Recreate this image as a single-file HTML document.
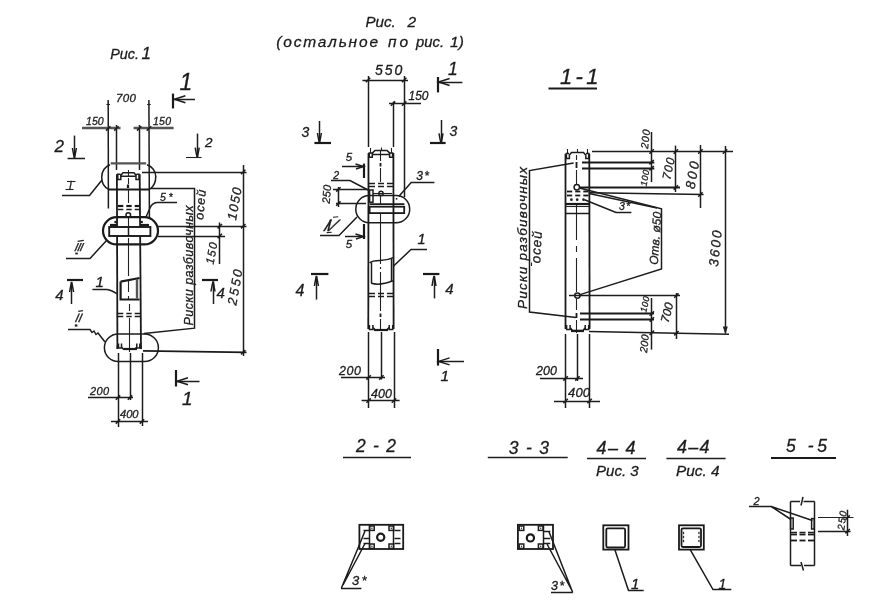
<!DOCTYPE html>
<html lang="ru"><head><meta charset="utf-8"><title>Чертёж</title>
<style>
html,body{margin:0;padding:0;background:#fff;}
svg{display:block;filter:grayscale(1);}
text{font-family:"Liberation Sans","DejaVu Sans",sans-serif;font-style:italic;fill:#1c1c1c;stroke:#1c1c1c;stroke-width:0.3;}
.l{stroke:#1c1c1c;stroke-width:1.5;fill:none;}
.n{stroke:#222;stroke-width:1.1;fill:none;}
.c{stroke:#1a1a1a;stroke-width:1.8;fill:none;}
.t{stroke:#1a1a1a;stroke-width:2.2;fill:none;}
.g{stroke:#555;stroke-width:2.4;fill:none;}
.f{fill:#222;stroke:none;}
</style></head><body>
<svg width="890" height="612" viewBox="0 0 890 612">
<rect x="0" y="0" width="890" height="612" fill="#ffffff"/>
<g id="fig1">
<text x="110.2" y="58.6" font-size="14.39" textLength="28.8" lengthAdjust="spacing" stroke-width="0.55">Рис.</text>
<text x="141.6" y="58.6" font-size="17" stroke-width="0.55">1</text>
<line class="l" x1="108.2" y1="100" x2="108.4" y2="208.5"/>
<line class="l" x1="148.9" y1="100" x2="149.4" y2="217.5"/>
<line class="n" x1="106.4" y1="104.5" x2="110" y2="104.5"/>
<line class="n" x1="147.1" y1="104.5" x2="150.7" y2="104.5"/>
<line class="l" x1="116.5" y1="125" x2="116.5" y2="170"/>
<line class="l" x1="139.5" y1="125" x2="139.5" y2="170"/>
<line class="g" x1="82" y1="128" x2="120.5" y2="128"/>
<line class="g" x1="133.6" y1="128" x2="173.6" y2="128"/>
<line class="l" x1="106.0" y1="130.6" x2="110.4" y2="126.2"/>
<line class="l" x1="114.2" y1="130.6" x2="118.60000000000001" y2="126.2"/>
<line class="l" x1="137.0" y1="130.6" x2="141.39999999999998" y2="126.2"/>
<line class="l" x1="146.70000000000002" y1="130.6" x2="151.1" y2="126.2"/>
<text x="116" y="101.5" font-size="11.5" textLength="20" lengthAdjust="spacing">700</text>
<text x="86" y="125" font-size="10.5" textLength="17.6" lengthAdjust="spacing">150</text>
<text x="153" y="125.3" font-size="10.5" textLength="18" lengthAdjust="spacing">150</text>
<line class="t" x1="173" y1="93.6" x2="173" y2="108.4"/>
<line class="l" x1="173.4" y1="99.5" x2="195" y2="99.5"/>
<path class="l" d="M185.4,95.8 L174.4,99.3 L185.4,102.8"/>
<text x="179.5" y="90.3" font-size="23" text-anchor="start" stroke-width="0.5">1</text>
<line class="l" x1="74.5" y1="135.6" x2="74.5" y2="158"/>
<path class="l" d="M72.4,148 Q73.4,154 74.4,158 Q75.4,154 76.4,148"/>
<line class="l" x1="67.6" y1="158.5" x2="85" y2="158.5"/>
<text x="54.5" y="151.8" font-size="17" text-anchor="start" stroke-width="0.5">2</text>
<line class="l" x1="197.5" y1="133.6" x2="197.5" y2="157.6"/>
<path class="l" d="M195.2,147.6 Q196.2,153.6 197.2,157.6 Q198.2,153.6 199.2,147.6"/>
<line class="n" x1="186" y1="157.5" x2="201.6" y2="157.5"/>
<text x="205.0" y="147" font-size="13.5">2</text>
<line x1="110.7" y1="163.4" x2="146.2" y2="163.4" stroke="#555" stroke-width="2.4"/>
<path class="l" d="M110,164.8 C104.5,167 101.7,172 101.7,177.5 C101.7,183 104.5,187.5 109,189.5 M147,164.8 C152,166.5 155.8,171 155.8,176.5 C155.8,182 153.5,186.5 150,189.2"/>
<line class="c" x1="108.5" y1="189.5" x2="150" y2="189.5"/>
<line class="c" x1="116.9" y1="174.2" x2="117.4" y2="349"/>
<line class="c" x1="139.7" y1="174.2" x2="141" y2="349"/>
<path class="l" d="M116.9,174.2 H120.5 M136.5,174.2 H139.7 M120.5,175.8 L123,172.8 H134 L136.5,175.8 M117.8,175 v4.5 h3 v-4.5 M136,175 v4.5 h3 v-4.5 M121,176.2 H136"/>
<path class="n" d="M128.5,170 V176 M128.5,178 V184 M128.5,190 V203 M128.5,217 V226 M128.5,238 V276 M128.5,280 V292 M128.5,296 V300 M129.5,304 V311 M129.5,318 V352"/>
<line class="t" x1="128" y1="184.5" x2="128" y2="188"/>
<line class="l" x1="142" y1="172.5" x2="246.5" y2="172.5"/>
<path class="l" d="M151,188.5 H194.5 V328.2 L144,333.6"/>
<line class="t" x1="118.0" y1="206" x2="123.3" y2="206"/>
<line class="t" x1="126.3" y1="206" x2="131.7" y2="206"/>
<line class="t" x1="134.7" y1="206" x2="140.0" y2="206"/>
<line class="l" x1="118.0" y1="209.5" x2="123.3" y2="209.5"/>
<line class="l" x1="126.3" y1="209.5" x2="131.7" y2="209.5"/>
<line class="l" x1="134.7" y1="209.5" x2="140.0" y2="209.5"/>
<circle class="l" cx="128.3" cy="215" r="2.3"/>
<text x="160" y="200.5" font-size="10.5" textLength="12.5" lengthAdjust="spacing">5*</text>
<path class="l" d="M177,202.5 H157 Q152,203 150,208 L146,217"/>
<rect class="t" x="103" y="217.2" width="55" height="27.200000000000017" rx="13.600000000000009"/>
<rect x="109.2" y="227" width="41.2" height="9" fill="#fff" stroke="#1a1a1a" stroke-width="1.9"/>
<line class="l" x1="128.5" y1="226" x2="128.5" y2="237"/>
<line class="t" x1="110" y1="225" x2="117" y2="225"/>
<line class="t" x1="141" y1="225" x2="149" y2="225"/>
<line class="t" x1="114.4" y1="222" x2="116.6" y2="222"/>
<line class="t" x1="140.6" y1="222" x2="142.8" y2="222"/>
<line class="l" x1="158" y1="226.5" x2="246.5" y2="226.5"/>
<line class="l" x1="158" y1="236.5" x2="225" y2="236.5"/>
<line class="l" x1="219.5" y1="222.5" x2="219.5" y2="264"/>
<line class="l" x1="217.60000000000002" y1="228.39999999999998" x2="222.0" y2="224.0"/>
<line class="l" x1="217.60000000000002" y1="238.2" x2="222.0" y2="233.8"/>
<text x="215.5" y="254" font-size="11.5" text-anchor="middle" textLength="22" lengthAdjust="spacing" transform="rotate(-80 215.5 254)">150</text>
<line class="l" x1="243.5" y1="165" x2="243.5" y2="356"/>
<line class="l" x1="241.0" y1="174.2" x2="245.39999999999998" y2="169.8"/>
<line class="l" x1="241.0" y1="228.39999999999998" x2="245.39999999999998" y2="224.0"/>
<line class="l" x1="241.0" y1="354.5" x2="245.39999999999998" y2="350.1"/>
<text x="238.8" y="204.5" font-size="13" text-anchor="middle" textLength="33" lengthAdjust="spacing" transform="rotate(-80 238.8 204.5)">1050</text>
<text x="239.5" y="288" font-size="13" text-anchor="middle" textLength="36" lengthAdjust="spacing" transform="rotate(-80 239.5 288)">2550</text>
<text x="69" y="189" font-size="10.5" text-anchor="start">I</text>
<path class="l" d="M62,195.5 H89.5 L102,180"/>
<line class="n" x1="67" y1="181.5" x2="75.5" y2="181.5"/>
<line class="n" x1="65.5" y1="189.5" x2="73.5" y2="189.5"/>
<text font-size="11.5" transform="translate(74,250.8) skewX(-14)" textLength="8.5" lengthAdjust="spacing">III</text>
<line class="n" x1="77.6" y1="241.4" x2="83.8" y2="240.4"/>
<rect class="f" x="75.2" y="252.6" width="2.6" height="1.8" rx="0"/>
<path class="l" d="M66,258.5 H90 L107,240"/>
<text x="192.5" y="265.5" font-size="12.5" text-anchor="middle" textLength="120" lengthAdjust="spacing" transform="rotate(-90 192.5 265.5)">Риски разбивочных</text>
<text x="204.5" y="205" font-size="12.5" text-anchor="middle" textLength="30" lengthAdjust="spacing" transform="rotate(-85 204.5 205)">осей</text>
<line class="t" x1="67" y1="280" x2="83" y2="280"/>
<line class="l" x1="71.5" y1="282" x2="71.5" y2="304"/>
<path class="l" d="M69.6,292 Q70.6,286 71.6,282 Q72.6,286 73.6,292"/>
<text x="55.2" y="300" font-size="15" stroke-width="0.55">4</text>
<line class="t" x1="202" y1="280" x2="218" y2="280"/>
<line class="l" x1="213.5" y1="281.5" x2="213.5" y2="304"/>
<path class="l" d="M211,291.5 Q212,285.5 213,281.5 Q214,285.5 215,291.5"/>
<text x="216.6" y="297.6" font-size="15" stroke-width="0.55">4</text>
<path class="t" d="M120.6,281.6 L139.6,278 M120.6,281.6 V299.5 H139.6"/>
<line class="g" x1="137" y1="279" x2="137" y2="298.5"/>
<text x="95.6" y="287.3" font-size="15" stroke-width="0.55">1</text>
<path class="l" d="M92.4,289.5 H107 Q111,290 116.8,293.6"/>
<line class="l" x1="118.0" y1="313.5" x2="123.3" y2="313.5"/>
<line class="l" x1="126.3" y1="313.5" x2="131.7" y2="313.5"/>
<line class="l" x1="134.7" y1="313.5" x2="140.0" y2="313.5"/>
<line class="l" x1="118.0" y1="316.5" x2="123.3" y2="316.5"/>
<line class="l" x1="126.3" y1="316.5" x2="131.7" y2="316.5"/>
<line class="l" x1="134.7" y1="316.5" x2="140.0" y2="316.5"/>
<rect class="l" x="104.4" y="334" width="54.0" height="27.600000000000023" rx="13.800000000000011"/>
<text font-size="12" transform="translate(74.6,322) skewX(-14)" textLength="6.5" lengthAdjust="spacing">II</text>
<line class="n" x1="78.3" y1="311.4" x2="82.9" y2="310.6"/>
<rect class="f" x="74.8" y="324.4" width="2.6" height="2.2" rx="0"/>
<path class="l" d="M68,329.5 H90 l2,3 l2,-1.5 l2,3.5 l2,-1.5 L105,342"/>
<path class="l" d="M117.4,349 V345.5 M141,349 V345.5 M118.5,343.5 v4.5 h3 v-4.5 M136.8,343.5 v4.5 h3 v-4.5 M121.5,347 l2,2.3 H134.8 l2,-2.3"/>
<line class="t" x1="123.6" y1="349" x2="137" y2="349"/>
<line x1="143" y1="350.8" x2="246.5" y2="352.4" stroke="#1a1a1a" stroke-width="1.7"/>
<line class="l" x1="118.5" y1="353" x2="118.5" y2="427"/>
<line class="l" x1="130.5" y1="353" x2="130.5" y2="400"/>
<line class="l" x1="142.5" y1="353" x2="142.5" y2="426"/>
<line class="l" x1="88" y1="397.5" x2="133" y2="397.5"/>
<line class="l" x1="115.8" y1="399.8" x2="120.2" y2="395.40000000000003"/>
<line class="l" x1="127.8" y1="399.8" x2="132.2" y2="395.40000000000003"/>
<text x="90" y="395" font-size="11" textLength="19" lengthAdjust="spacing">200</text>
<line class="l" x1="111" y1="421.5" x2="148" y2="421.5"/>
<line class="l" x1="115.8" y1="423.59999999999997" x2="120.2" y2="419.2"/>
<line class="l" x1="139.8" y1="423.59999999999997" x2="144.2" y2="419.2"/>
<text x="120" y="418" font-size="11.09" textLength="18.5" lengthAdjust="spacing">400</text>
<line class="t" x1="176" y1="370" x2="176" y2="386.5"/>
<line class="l" x1="176" y1="381.5" x2="199.5" y2="381.5"/>
<path class="l" d="M188,377.8 L177,381.3 L188,384.8"/>
<text x="182" y="405" font-size="19" text-anchor="start" stroke-width="0.5">1</text>
</g>
<g id="fig2">
<text x="365.5" y="26.6" font-size="15.14" textLength="30.3" lengthAdjust="spacing" stroke-width="0.55">Рис.</text>
<text x="407.4" y="26.6" font-size="15.5" stroke-width="0.55">2</text>
<text x="276.3" y="46.8" font-size="15.5" textLength="101.7" lengthAdjust="spacing" stroke-width="0.55">(остальное</text>
<text x="388" y="46.8" font-size="15.5" textLength="20" lengthAdjust="spacing" stroke-width="0.55">по</text>
<text x="416" y="46.8" font-size="14.81" textLength="28" lengthAdjust="spacing" stroke-width="0.55">рис.</text>
<text x="450" y="46.8" font-size="15.5" textLength="14" lengthAdjust="spacing" stroke-width="0.55">1)</text>
<line class="l" x1="368.5" y1="76" x2="368.5" y2="147"/>
<line class="l" x1="404.5" y1="76" x2="404.5" y2="197"/>
<line class="l" x1="362.4" y1="80.5" x2="408" y2="80.5"/>
<line class="l" x1="365.8" y1="82.2" x2="370.2" y2="77.8"/>
<line class="l" x1="402.0" y1="82.2" x2="406.4" y2="77.8"/>
<text x="375" y="74.6" font-size="14" textLength="27.4" lengthAdjust="spacing" stroke-width="0.55">550</text>
<line class="l" x1="393.5" y1="101.6" x2="393.5" y2="147"/>
<line class="l" x1="389" y1="103.5" x2="421" y2="103.5"/>
<line class="l" x1="390.8" y1="105.8" x2="395.2" y2="101.39999999999999"/>
<line class="l" x1="402.0" y1="105.8" x2="406.4" y2="101.39999999999999"/>
<text x="408.5" y="100.4" font-size="11.99" textLength="20.0" lengthAdjust="spacing">150</text>
<line class="t" x1="438" y1="77" x2="438" y2="92.4"/>
<line class="l" x1="437.6" y1="82.5" x2="462.4" y2="82.5"/>
<path class="l" d="M449.6,78.5 L438.6,82 L449.6,85.5"/>
<text x="448" y="75" font-size="17.5" text-anchor="start" stroke-width="0.5">1</text>
<line class="l" x1="319.5" y1="121" x2="319.5" y2="143"/>
<path class="l" d="M317.4,133 Q318.4,139 319.4,143 Q320.4,139 321.4,133"/>
<line class="t" x1="314.4" y1="143" x2="331" y2="143"/>
<text x="301.4" y="137" font-size="14" stroke-width="0.55">3</text>
<line class="l" x1="441.5" y1="120" x2="441.5" y2="143.4"/>
<path class="l" d="M439,133.4 Q440,139.4 441,143.4 Q442,139.4 443,133.4"/>
<line class="t" x1="430" y1="143" x2="445.6" y2="143"/>
<text x="449.4" y="136" font-size="14" stroke-width="0.55">3</text>
<line class="c" x1="368.5" y1="152.9" x2="368.3" y2="329"/>
<line class="c" x1="393.4" y1="152.9" x2="393.6" y2="329"/>
<path class="l" d="M368.5,152.9 H372 M390,152.9 H393.4 M372,153.4 L375,150.4 H387 L390,153.4 M369.3,153.6 v3.6 h3 v-3.6 M389.6,153.6 v3.6 h3 v-3.6 M372,154.6 H390"/>
<line class="n" x1="370.5" y1="148" x2="370.5" y2="153"/>
<line class="n" x1="381.5" y1="147.5" x2="381.5" y2="151"/>
<line class="n" x1="391.5" y1="148" x2="391.5" y2="153"/>
<path class="n" d="M380.5,151 V161 M380.5,168 V182 M380.5,196 V204 M380.5,214 V264 M380.5,267 V269 M380.5,272 V311 M380.5,319 V330"/>
<line class="c" x1="380.5" y1="163" x2="380.5" y2="166.5"/>
<line class="c" x1="380.5" y1="313.5" x2="380.5" y2="317"/>
<text x="345.8" y="161" font-size="11.5">5</text>
<line class="l" x1="342" y1="166.5" x2="364" y2="166.5"/>
<path class="l" d="M355.5,164 L363.5,166.5 L356,169"/>
<line class="t" x1="364" y1="163.6" x2="364" y2="178"/>
<line class="t" x1="364" y1="224" x2="364" y2="239"/>
<line class="l" x1="345" y1="236.5" x2="364" y2="236.5"/>
<path class="l" d="M355.5,234 L363.5,236.6 L356,239"/>
<text x="345.8" y="248.3" font-size="11.5">5</text>
<text x="333.3" y="179" font-size="10.5">2</text>
<path class="l" d="M331,180.5 H350 L368,190"/>
<line class="l" x1="369.0" y1="183.5" x2="375.0" y2="183.5"/>
<line class="l" x1="378.0" y1="183.5" x2="384.0" y2="183.5"/>
<line class="l" x1="387.0" y1="183.5" x2="393.0" y2="183.5"/>
<line class="l" x1="369.0" y1="186.5" x2="375.0" y2="186.5"/>
<line class="l" x1="378.0" y1="186.5" x2="384.0" y2="186.5"/>
<line class="l" x1="387.0" y1="186.5" x2="393.0" y2="186.5"/>
<circle class="l" cx="381" cy="193.4" r="2.1"/>
<rect class="l" x="369.6" y="190" width="3.4" height="12.2" rx="0"/>
<line class="n" x1="373" y1="193.5" x2="392" y2="193.5"/>
<line class="l" x1="338.5" y1="187" x2="338.5" y2="207"/>
<line class="l" x1="333" y1="189.5" x2="368" y2="189.5"/>
<line class="l" x1="336" y1="203.5" x2="366" y2="203.5"/>
<line class="l" x1="336.2" y1="191.6" x2="340.59999999999997" y2="187.20000000000002"/>
<line class="l" x1="336.2" y1="205.79999999999998" x2="340.59999999999997" y2="201.4"/>
<text x="330.5" y="194.4" font-size="11" text-anchor="middle" textLength="18.5" lengthAdjust="spacing" transform="rotate(-86 330.5 194.4)">250</text>
<rect class="l" x="355.8" y="195.6" width="53.89999999999998" height="27.099999999999994" rx="13.549999999999997"/>
<line x1="369.6" y1="204.2" x2="404.4" y2="204.2" stroke="#1a1a1a" stroke-width="1.8"/>
<rect class="c" x="369.6" y="206.7" width="34.6" height="6.4" rx="0"/>
<text x="416.3" y="179.7" font-size="12" textLength="12.7" lengthAdjust="spacing">3*</text>
<path class="l" d="M434.4,182.5 H411.2 L398.7,196.6"/>
<rect class="f" x="395.8" y="198" width="1.6" height="1.6" rx="0"/>
<text font-size="16.5" transform="translate(322.5,231.2) skewX(-24)" textLength="12" lengthAdjust="spacing">IV</text>
<line class="n" x1="333" y1="217.2" x2="338.2" y2="216.8"/>
<line class="n" x1="326.7" y1="232.6" x2="331.7" y2="232.2"/>
<path class="l" d="M320,235.5 H339 L357,217"/>
<text x="417.5" y="244.3" font-size="14.5" text-anchor="start" stroke-width="0.5">1</text>
<path class="l" d="M427,249.5 H411 L393.6,266"/>
<path class="l" d="M369.6,263 C372,260.5 375,260.4 380,260.4 C385,260.4 389,259.6 393.3,257.6"/>
<line class="l" x1="371.5" y1="262.5" x2="371.5" y2="283.3"/>
<line class="l" x1="391.5" y1="258.8" x2="391.5" y2="281.7"/>
<path class="l" d="M371.2,283.3 C376,284.6 384,284.4 392.8,280.8"/>
<line class="t" x1="311" y1="274" x2="328.4" y2="274"/>
<line class="l" x1="316.5" y1="276" x2="316.5" y2="299.6"/>
<path class="l" d="M314.4,286 Q315.4,280 316.4,276 Q317.4,280 318.4,286"/>
<text x="295.4" y="296" font-size="16" stroke-width="0.55">4</text>
<line class="t" x1="423" y1="274" x2="439.4" y2="274"/>
<line class="l" x1="434.5" y1="276" x2="434.5" y2="298.4"/>
<path class="l" d="M432,286 Q433,280 434,276 Q435,280 436,286"/>
<text x="445.3" y="294.3" font-size="15" stroke-width="0.55">4</text>
<line class="l" x1="369.0" y1="293.5" x2="375.0" y2="293.5"/>
<line class="l" x1="378.0" y1="293.5" x2="384.0" y2="293.5"/>
<line class="l" x1="387.0" y1="293.5" x2="393.0" y2="293.5"/>
<line class="l" x1="369.0" y1="296.5" x2="375.0" y2="296.5"/>
<line class="l" x1="378.0" y1="296.5" x2="384.0" y2="296.5"/>
<line class="l" x1="387.0" y1="296.5" x2="393.0" y2="296.5"/>
<path class="l" d="M369.4,325 v4.5 h3.5 v-4.5 M389.2,325 v4.5 h3.5 v-4.5 M373,327.5 l2,2.2 H387 l2,-2.2"/>
<line class="t" x1="374" y1="330" x2="388" y2="330"/>
<line class="l" x1="368.5" y1="332" x2="368.5" y2="408"/>
<line class="l" x1="381.5" y1="332" x2="381.5" y2="379.5"/>
<line class="l" x1="394.5" y1="332" x2="394.5" y2="408"/>
<line class="l" x1="341" y1="377.5" x2="385" y2="377.5"/>
<line class="l" x1="366.40000000000003" y1="379.59999999999997" x2="370.8" y2="375.2"/>
<line class="l" x1="379.2" y1="379.59999999999997" x2="383.59999999999997" y2="375.2"/>
<text x="339" y="375" font-size="12.5" textLength="22" lengthAdjust="spacing">200</text>
<line class="l" x1="361.6" y1="400.5" x2="399.6" y2="400.5"/>
<line class="l" x1="366.40000000000003" y1="402.8" x2="370.8" y2="398.40000000000003"/>
<line class="l" x1="391.8" y1="402.8" x2="396.2" y2="398.40000000000003"/>
<text x="371" y="398.4" font-size="12.5" textLength="21" lengthAdjust="spacing">400</text>
<line class="t" x1="438" y1="349" x2="438" y2="365.6"/>
<line class="l" x1="437.6" y1="361.5" x2="464" y2="361.5"/>
<path class="l" d="M449.6,357.9 L438.6,361.4 L449.6,364.9"/>
<text x="440.5" y="381" font-size="15.5" text-anchor="start" stroke-width="0.5">1</text>
</g>
<g id="v11">
<text x="560" y="84.3" font-size="22" textLength="38.5" lengthAdjust="spacing" stroke-width="0.55">1-1</text>
<line class="c" x1="548.5" y1="88.5" x2="597" y2="88.5"/>
<line class="c" x1="565.5" y1="153.8" x2="565.5" y2="329"/>
<line class="c" x1="589.3" y1="153.8" x2="589.6" y2="329"/>
<path class="l" d="M565.6,153.6 H569 M586,153.6 H589.6 M569,155.5 L571.5,152.5 H583.5 L586,155.5 M566.4,154.5 v4 h3 v-4 M585.8,154.5 v4 h3 v-4"/>
<line class="n" x1="567.5" y1="149" x2="567.5" y2="153"/>
<line class="n" x1="577.5" y1="149" x2="577.5" y2="153"/>
<line class="n" x1="587.5" y1="149" x2="587.5" y2="153"/>
<path class="n" d="M576.5,155 V160 M576.5,170 V184 M576.5,205 V240 M576.5,246 V252 M576.5,258 V292 M576.5,299 V310 M576.5,320 V333"/>
<line class="c" x1="576.5" y1="162" x2="576.5" y2="168"/>
<line class="c" x1="576.5" y1="313" x2="576.5" y2="318"/>
<line class="l" x1="592" y1="151.5" x2="733" y2="151.5"/>
<line class="c" x1="582" y1="162.5" x2="654.3" y2="162.5"/>
<line class="c" x1="582" y1="168.5" x2="654.3" y2="168.5"/>
<line class="c" x1="580" y1="187.5" x2="680" y2="187.5"/>
<line class="l" x1="590" y1="192.7" x2="703.6" y2="194.6"/>
<line class="l" x1="651.5" y1="132" x2="651.5" y2="182"/>
<line class="l" x1="649.4" y1="153.7" x2="653.8000000000001" y2="149.3"/>
<line class="l" x1="649.4" y1="164.39999999999998" x2="653.8000000000001" y2="160.0"/>
<line class="l" x1="649.4" y1="170.39999999999998" x2="653.8000000000001" y2="166.0"/>
<text x="649" y="139.5" font-size="10.5" text-anchor="middle" textLength="19" lengthAdjust="spacing" transform="rotate(-84 649 139.5)">200</text>
<text x="648" y="178.5" font-size="9" text-anchor="middle" textLength="16" lengthAdjust="spacing" transform="rotate(-80 648 178.5)">100</text>
<line class="l" x1="675.5" y1="145.6" x2="675.5" y2="192"/>
<line class="l" x1="673.5999999999999" y1="153.7" x2="678.0" y2="149.3"/>
<line class="l" x1="673.5999999999999" y1="189.6" x2="678.0" y2="185.20000000000002"/>
<text x="672.5" y="169.5" font-size="12" text-anchor="middle" textLength="22" lengthAdjust="spacing" transform="rotate(-78 672.5 169.5)">700</text>
<line class="l" x1="700.5" y1="145" x2="700.5" y2="208"/>
<line class="l" x1="698.1999999999999" y1="153.7" x2="702.6" y2="149.3"/>
<line class="l" x1="698.1999999999999" y1="196.7" x2="702.6" y2="192.3"/>
<text x="697" y="176" font-size="13.5" text-anchor="middle" textLength="27.5" lengthAdjust="spacing" transform="rotate(-80 697 176)">800</text>
<line class="l" x1="725.5" y1="146" x2="725.5" y2="333"/>
<line class="l" x1="722.8" y1="153.7" x2="727.2" y2="149.3"/>
<path class="f" d="M722.8,326.5 L725.4,334.5 L727.8,326.5 Z"/>
<text x="720" y="249" font-size="13.5" text-anchor="middle" textLength="36" lengthAdjust="spacing" transform="rotate(-84 720 249)">3600</text>
<circle class="l" cx="576.8" cy="187.3" r="2.7"/>
<line class="c" x1="567.0" y1="191.5" x2="572.2" y2="191.5"/>
<line class="c" x1="575.2" y1="191.5" x2="580.3" y2="191.5"/>
<line class="c" x1="583.3" y1="191.5" x2="588.5" y2="191.5"/>
<line class="c" x1="567.0" y1="195.5" x2="572.2" y2="195.5"/>
<line class="c" x1="575.2" y1="195.5" x2="580.3" y2="195.5"/>
<line class="c" x1="583.3" y1="195.5" x2="588.5" y2="195.5"/>
<circle class="f" cx="571.4" cy="199.7" r="1.35"/>
<circle class="f" cx="577.2" cy="199.7" r="1.35"/>
<circle class="f" cx="583.5" cy="199.7" r="1.35"/>
<line class="t" x1="565.6" y1="204" x2="589.6" y2="204"/>
<line class="n" x1="565.6" y1="206.5" x2="589.6" y2="206.5"/>
<line class="l" x1="565.6" y1="213.5" x2="589.6" y2="213.5"/>
<path class="l" d="M573.6,163 L529.5,170.6 V312 L576,317.6"/>
<text x="527" y="238" font-size="13.5" text-anchor="middle" textLength="142" lengthAdjust="spacing" transform="rotate(-90 527 238)">Риски разбивочных</text>
<text x="541" y="247.5" font-size="13.5" text-anchor="middle" textLength="32" lengthAdjust="spacing" transform="rotate(-87 541 247.5)">осей</text>
<line class="n" x1="531.5" y1="266" x2="531.5" y2="262.5"/>
<path class="l" d="M579.3,188 L661.5,208.8 V269 L580,294.6"/>
<path class="l" d="M589,193.5 L657,208"/>
<text x="659.5" y="238.5" font-size="12.01" text-anchor="middle" textLength="53" lengthAdjust="spacing" transform="rotate(-86 659.5 238.5)">Отв. ø50</text>
<text x="619" y="210" font-size="10.5" textLength="11" lengthAdjust="spacing">3*</text>
<path class="l" d="M631.4,212.5 H616 L584.5,199.8"/>
<circle class="l" cx="577.4" cy="295.6" r="2.7"/>
<line class="l" x1="569" y1="295.5" x2="680" y2="295.5"/>
<line class="c" x1="580" y1="313.5" x2="654" y2="313.5"/>
<line class="c" x1="580" y1="319.5" x2="654" y2="319.5"/>
<line class="l" x1="589" y1="331.6" x2="729" y2="334.2"/>
<line class="l" x1="651.5" y1="298" x2="651.5" y2="349.6"/>
<line class="l" x1="649.5999999999999" y1="315.8" x2="654.0" y2="311.40000000000003"/>
<line class="l" x1="649.5999999999999" y1="321.59999999999997" x2="654.0" y2="317.2"/>
<line class="l" x1="649.5999999999999" y1="335.0" x2="654.0" y2="330.6"/>
<text x="648" y="305" font-size="9" text-anchor="middle" textLength="16" lengthAdjust="spacing" transform="rotate(-78 648 305)">100</text>
<text x="648" y="344" font-size="10.5" text-anchor="middle" textLength="18" lengthAdjust="spacing" transform="rotate(-84 648 344)">200</text>
<line class="l" x1="676.5" y1="293" x2="676.5" y2="339"/>
<line class="l" x1="674.1999999999999" y1="297.8" x2="678.6" y2="293.40000000000003"/>
<line class="l" x1="674.1999999999999" y1="335.4" x2="678.6" y2="331.0"/>
<text x="671" y="313.5" font-size="11.99" text-anchor="middle" textLength="20" lengthAdjust="spacing" transform="rotate(-76 671 313.5)">700</text>
<path class="l" d="M566.6,325 v4.5 h3.5 v-4.5 M585.2,325 v4.5 h3.5 v-4.5 M570.5,328 l2,2.4 H583 l2,-2.4"/>
<line class="t" x1="571" y1="331" x2="584" y2="331"/>
<line class="l" x1="565.5" y1="334" x2="565.5" y2="408"/>
<line class="l" x1="577.5" y1="334" x2="577.5" y2="381"/>
<line class="l" x1="589.5" y1="334" x2="589.5" y2="408"/>
<line class="l" x1="540" y1="378.5" x2="583" y2="378.5"/>
<line class="l" x1="563.4" y1="380.59999999999997" x2="567.8000000000001" y2="376.2"/>
<line class="l" x1="575.1999999999999" y1="380.59999999999997" x2="579.6" y2="376.2"/>
<text x="536" y="375" font-size="12.5" textLength="21" lengthAdjust="spacing">200</text>
<line class="l" x1="554" y1="401.5" x2="600" y2="401.5"/>
<line class="l" x1="563.4" y1="403.2" x2="567.8000000000001" y2="398.8"/>
<line class="l" x1="587.4" y1="403.2" x2="591.8000000000001" y2="398.8"/>
<text x="568" y="397" font-size="13" textLength="22" lengthAdjust="spacing">400</text>
</g>
<g id="sec">
<text x="356" y="451.5" font-size="17.5" textLength="40" lengthAdjust="spacing" stroke-width="0.55">2-2</text>
<line class="l" x1="343" y1="457.5" x2="411" y2="457.5"/>
<rect class="c" x="359.4" y="524.8" width="43.8" height="24.2" rx="0"/>
<line class="l" x1="369.5" y1="524.8" x2="369.5" y2="549"/>
<line class="l" x1="393.5" y1="524.8" x2="393.5" y2="549"/>
<rect class="l" x="369.6" y="526" width="4.6" height="4.4" rx="0"/>
<circle class="f" cx="371.90000000000003" cy="528.2" r="0.7"/>
<rect class="l" x="389" y="526" width="4.6" height="4.4" rx="0"/>
<circle class="f" cx="391.3" cy="528.2" r="0.7"/>
<rect class="l" x="369.6" y="544" width="4.6" height="4.4" rx="0"/>
<circle class="f" cx="371.90000000000003" cy="546.2" r="0.7"/>
<rect class="l" x="389" y="544" width="4.6" height="4.4" rx="0"/>
<circle class="f" cx="391.3" cy="546.2" r="0.7"/>
<circle class="t" cx="380.7" cy="537.3" r="3.6"/>
<line class="l" x1="363.5" y1="530.5" x2="369" y2="530.5"/>
<line class="l" x1="394.5" y1="530.5" x2="400.5" y2="530.5"/>
<line class="l" x1="363.5" y1="538.5" x2="369" y2="538.5"/>
<line class="l" x1="394.5" y1="538.5" x2="400.5" y2="538.5"/>
<line class="l" x1="363.5" y1="543.5" x2="369" y2="543.5"/>
<line class="l" x1="394.5" y1="543.5" x2="400.5" y2="543.5"/>
<path class="l" d="M341.3,588.3 L359.3,545 L365,531 M343,585 L365,543.5"/>
<line class="l" x1="341" y1="588.5" x2="361.4" y2="588.5"/>
<text x="352" y="584.6" font-size="13" textLength="14.5" lengthAdjust="spacing">3*</text>
<text x="508.7" y="453.7" font-size="17.5" textLength="40.3" lengthAdjust="spacing" stroke-width="0.55">3-3</text>
<line class="l" x1="487.8" y1="457.5" x2="567.7" y2="457.5"/>
<rect class="c" x="517.9" y="524.8" width="35.1" height="24.2" rx="0"/>
<line class="l" x1="543.5" y1="524.8" x2="543.5" y2="549"/>
<rect class="l" x="519.2" y="526" width="4.6" height="4.4" rx="0"/>
<circle class="f" cx="521.5" cy="528.2" r="0.7"/>
<rect class="l" x="538.4" y="526" width="4.6" height="4.4" rx="0"/>
<circle class="f" cx="540.6999999999999" cy="528.2" r="0.7"/>
<rect class="l" x="519.2" y="544" width="4.6" height="4.4" rx="0"/>
<circle class="f" cx="521.5" cy="546.2" r="0.7"/>
<rect class="l" x="538.4" y="544" width="4.6" height="4.4" rx="0"/>
<circle class="f" cx="540.6999999999999" cy="546.2" r="0.7"/>
<circle class="t" cx="530.4" cy="537.9" r="3.6"/>
<line class="l" x1="543.8" y1="531.5" x2="550.3" y2="531.5"/>
<line class="l" x1="543.8" y1="538.5" x2="550.3" y2="538.5"/>
<line class="l" x1="543.8" y1="543.5" x2="550.3" y2="543.5"/>
<path class="l" d="M572.7,592.4 L548.7,531 M571.4,589.5 L547,544"/>
<line class="l" x1="551" y1="592.5" x2="572.7" y2="592.5"/>
<text x="551" y="589.6" font-size="12.5" textLength="13" lengthAdjust="spacing">3*</text>
<text x="596.6" y="454.3" font-size="18" textLength="39.0" lengthAdjust="spacing" stroke-width="0.55">4– 4</text>
<line class="l" x1="587" y1="458.5" x2="646" y2="458.5"/>
<text x="596" y="475.8" font-size="15.06" textLength="42.7" lengthAdjust="spacing" stroke-width="0.55">Рис. 3</text>
<rect class="c" x="603.3" y="525.3" width="25.2" height="24.3" rx="0"/>
<rect class="c" x="606.3" y="528.3" width="18.8" height="19.2" rx="1.5"/>
<path class="l" d="M614.8,549.6 L628.5,590.5 H643.7"/>
<text x="631" y="589" font-size="15" text-anchor="start" stroke-width="0.5">1</text>
<text x="677" y="453.3" font-size="18" textLength="32.4" lengthAdjust="spacing" stroke-width="0.55">4–4</text>
<line class="l" x1="666.4" y1="458.5" x2="725.6" y2="458.5"/>
<text x="676" y="476.2" font-size="15.38" textLength="43.6" lengthAdjust="spacing" stroke-width="0.55">Рис. 4</text>
<rect class="c" x="679" y="525.3" width="24.8" height="24.3" rx="0"/>
<rect class="c" x="681.5" y="528.3" width="19.5" height="18.7" rx="1.5"/>
<path class="l" d="M690.2,549.6 L713,589.5 H731.3"/>
<text x="718.5" y="589" font-size="14" text-anchor="start" stroke-width="0.5">1</text>
<path class="n" d="M683,532 q1.6,1 0,2 M699.5,532 q-1.6,1 0,2"/>
<path class="n" d="M683,536 q1.6,1 0,2 M699.5,536 q-1.6,1 0,2"/>
<path class="n" d="M683,540 q1.6,1 0,2 M699.5,540 q-1.6,1 0,2"/>
<text x="786" y="452" font-size="17.5" textLength="41" lengthAdjust="spacing" stroke-width="0.55">5 -5</text>
<line class="t" x1="771" y1="458" x2="836" y2="458"/>
<path class="l" d="M790.5,501.5 V565.5 M814.5,501.5 V565.5 M790.5,501.5 H800 M803.5,501.5 H814.5 M803,496.8 L801,505.5 M790.5,565.5 H801 M804,565.5 H814.5 M801,562 L803.5,570.5"/>
<text x="753.5" y="505.3" font-size="11">2</text>
<path class="l" d="M749,506.5 H771.2 L791,519.5 M771.2,506.5 L812.4,520.5"/>
<rect class="l" x="790.6" y="518" width="2.6" height="11" rx="0"/>
<rect class="l" x="811.6" y="518.6" width="2.6" height="10.4" rx="0"/>
<line class="l" x1="791.0" y1="532.5" x2="797.0" y2="532.5"/>
<line class="l" x1="799.5" y1="532.5" x2="805.5" y2="532.5"/>
<line class="l" x1="808.0" y1="532.5" x2="814.0" y2="532.5"/>
<line class="c" x1="791.0" y1="534.5" x2="797.0" y2="534.5"/>
<line class="c" x1="799.5" y1="534.5" x2="805.5" y2="534.5"/>
<line class="c" x1="808.0" y1="534.5" x2="814.0" y2="534.5"/>
<line class="c" x1="791.0" y1="540.5" x2="797.0" y2="540.5"/>
<line class="c" x1="799.5" y1="540.5" x2="805.5" y2="540.5"/>
<line class="c" x1="808.0" y1="540.5" x2="814.0" y2="540.5"/>
<line class="n" x1="818" y1="517.5" x2="853.5" y2="517.5"/>
<line class="l" x1="818" y1="531.5" x2="850.6" y2="531.5"/>
<line class="l" x1="847.5" y1="509.7" x2="847.5" y2="536"/>
<line class="l" x1="845.4" y1="519.8000000000001" x2="849.8000000000001" y2="515.4"/>
<line class="l" x1="845.4" y1="533.4000000000001" x2="849.8000000000001" y2="529.0"/>
<text x="845.5" y="521" font-size="10" text-anchor="middle" textLength="19" lengthAdjust="spacing" transform="rotate(-82 845.5 521)">250</text>
</g>
</svg>
</body></html>
